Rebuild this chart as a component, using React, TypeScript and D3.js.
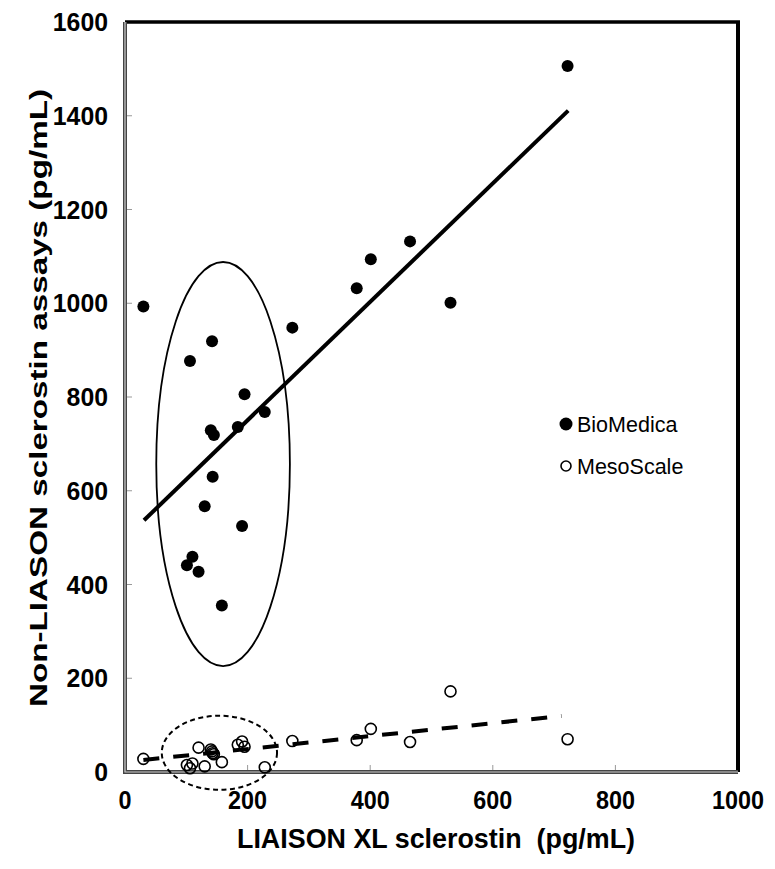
import React from "react";
import * as d3 from "d3";

const liaison = [30, 101, 106, 110, 120, 130, 140, 142, 143, 145, 158, 184, 191, 195, 228, 273, 378, 401, 465, 531, 722];
const bioMedica = [993, 441, 877, 459, 427, 567, 729, 919, 630, 719, 355, 736, 525, 806, 768, 948, 1032, 1094, 1132, 1001, 1506];
const mesoScale = [28, 15, 8, 18, 52, 12, 48, 44, 40, 38, 21, 58, 65, 54, 10, 66, 68, 92, 64, 172, 70];

// regression fits: [slope, intercept, xStart, xEnd]
const bioFit = [1.263, 497.8, 31, 723];
const mesoFit = [0.1377, 21.5, 30, 712];

// highlighted ellipses: [cx, cy, rx, ry] in data units
const bioEllipse = [160, 657, 109, 431];
const mesoEllipse = [154, 41, 94, 79];

const xTicks = [0, 200, 400, 600, 800, 1000];
const yTicks = [0, 200, 400, 600, 800, 1000, 1200, 1400, 1600];

const seriesNames = ["BioMedica", "MesoScale"];
const xTitle = "LIAISON XL sclerostin  (pg/mL)";
const yTitle = "Non-LIASON sclerostin assays (pg/mL)";

export default function App() {
  const W = 775, H = 869;
  const x = d3.scaleLinear().domain([0, 1000]).range([125, 738]);
  const y = d3.scaleLinear().domain([0, 1600]).range([772, 22]);
  const font = "'Liberation Sans', Arial, sans-serif";
  const fitLine = (f: number[]) =>
    d3.line<number>().x((v) => x(v)).y((v) => y(f[0] * v + f[1]))([f[2], f[3]]) || "";
  const ell = (e: number[]) => ({
    cx: x(e[0]), cy: y(e[1]), rx: x(e[2]) - x(0), ry: y(0) - y(e[3]),
  });
  const be = ell(bioEllipse);
  const me = ell(mesoEllipse);
  const x0 = x(0), x1 = x(1000), y0 = y(0), y1 = y(1600);

  return (
    <svg width={W} height={H} style={{ position: "absolute", left: 0, top: 0, background: "#fff" }}>
      <rect x={0} y={0} width={W} height={H} fill="#fff" />
      {/* frame */}
      <line x1={x0} y1={y1} x2={x1 + 2} y2={y1} stroke="#000" strokeWidth={3.5} />
      <line x1={x1} y1={y1} x2={x1} y2={y0} stroke="#000" strokeWidth={4} />
      <path d={`M${x0},${y1} V${y0} H${x1}`} fill="none" stroke="#444" strokeWidth={4} />
      <path d={`M${x0},${y1} V${y0} H${x1}`} fill="none" stroke="#ccc" strokeWidth={1.2} />
      {/* ticks */}
      {xTicks.slice(1, -1).map((t) => (
        <line key={"xt" + t} x1={x(t)} x2={x(t)} y1={y0 - 2} y2={y0 - 7} stroke="#999" strokeWidth={1} />
      ))}
      {yTicks.slice(1, -1).map((t) => (
        <line key={"yt" + t} x1={x0 + 2} x2={x0 + 7} y1={y(t)} y2={y(t)} stroke="#999" strokeWidth={1} />
      ))}
      {/* tick labels */}
      {xTicks.map((t) => (
        <text key={"xl" + t} x={x(t)} y={809} textAnchor="middle" fontFamily={font} fontWeight="bold"
          fontSize={26} textLength={String(t).length * 13} lengthAdjust="spacingAndGlyphs">{t}</text>
      ))}
      {yTicks.map((t) => (
        <text key={"yl" + t} x={108} y={y(t) + 9} textAnchor="end" fontFamily={font} fontWeight="bold"
          fontSize={26} textLength={String(t).length * 13.8} lengthAdjust="spacingAndGlyphs">{t}</text>
      ))}
      {/* axis titles */}
      <text x={436} y={848} textAnchor="middle" fontFamily={font} fontWeight="bold" fontSize={27}
        textLength={398} lengthAdjust="spacingAndGlyphs" style={{ whiteSpace: "pre" }}>{xTitle}</text>
      <text transform={`translate(47,398) rotate(-90)`} textAnchor="middle" fontFamily={font}
        fontWeight="bold" fontSize={24} textLength={618} lengthAdjust="spacingAndGlyphs">{yTitle}</text>
      {/* ellipses */}
      <ellipse cx={be.cx} cy={be.cy} rx={be.rx} ry={be.ry} fill="none" stroke="#000" strokeWidth={1.8} />
      <ellipse cx={me.cx} cy={me.cy} rx={me.rx} ry={me.ry} fill="none" stroke="#000" strokeWidth={2}
        strokeDasharray="5,3.5" />
      {/* fit lines */}
      <path d={fitLine(bioFit)} stroke="#000" strokeWidth={4} fill="none" />
      <path d={fitLine(mesoFit)} stroke="#000" strokeWidth={4} fill="none" strokeDasharray="16,14" />
      {/* points */}
      {liaison.map((v, i) => (
        <circle key={"b" + i} cx={x(v)} cy={y(bioMedica[i])} r={6} fill="#000" />
      ))}
      {liaison.map((v, i) => (
        <circle key={"m" + i} cx={x(v)} cy={y(mesoScale[i])} r={5.5} fill="none" stroke="#000" strokeWidth={1.6} />
      ))}
      {/* legend */}
      <circle cx={566} cy={424} r={6.5} fill="#000" />
      <text x={577} y={431.5} fontFamily={font} fontSize={21.5}>{seriesNames[0]}</text>
      <circle cx={566} cy={466} r={5} fill="none" stroke="#000" strokeWidth={1.6} />
      <text x={577} y={473.5} fontFamily={font} fontSize={21.5}>{seriesNames[1]}</text>
    </svg>
  );
}
